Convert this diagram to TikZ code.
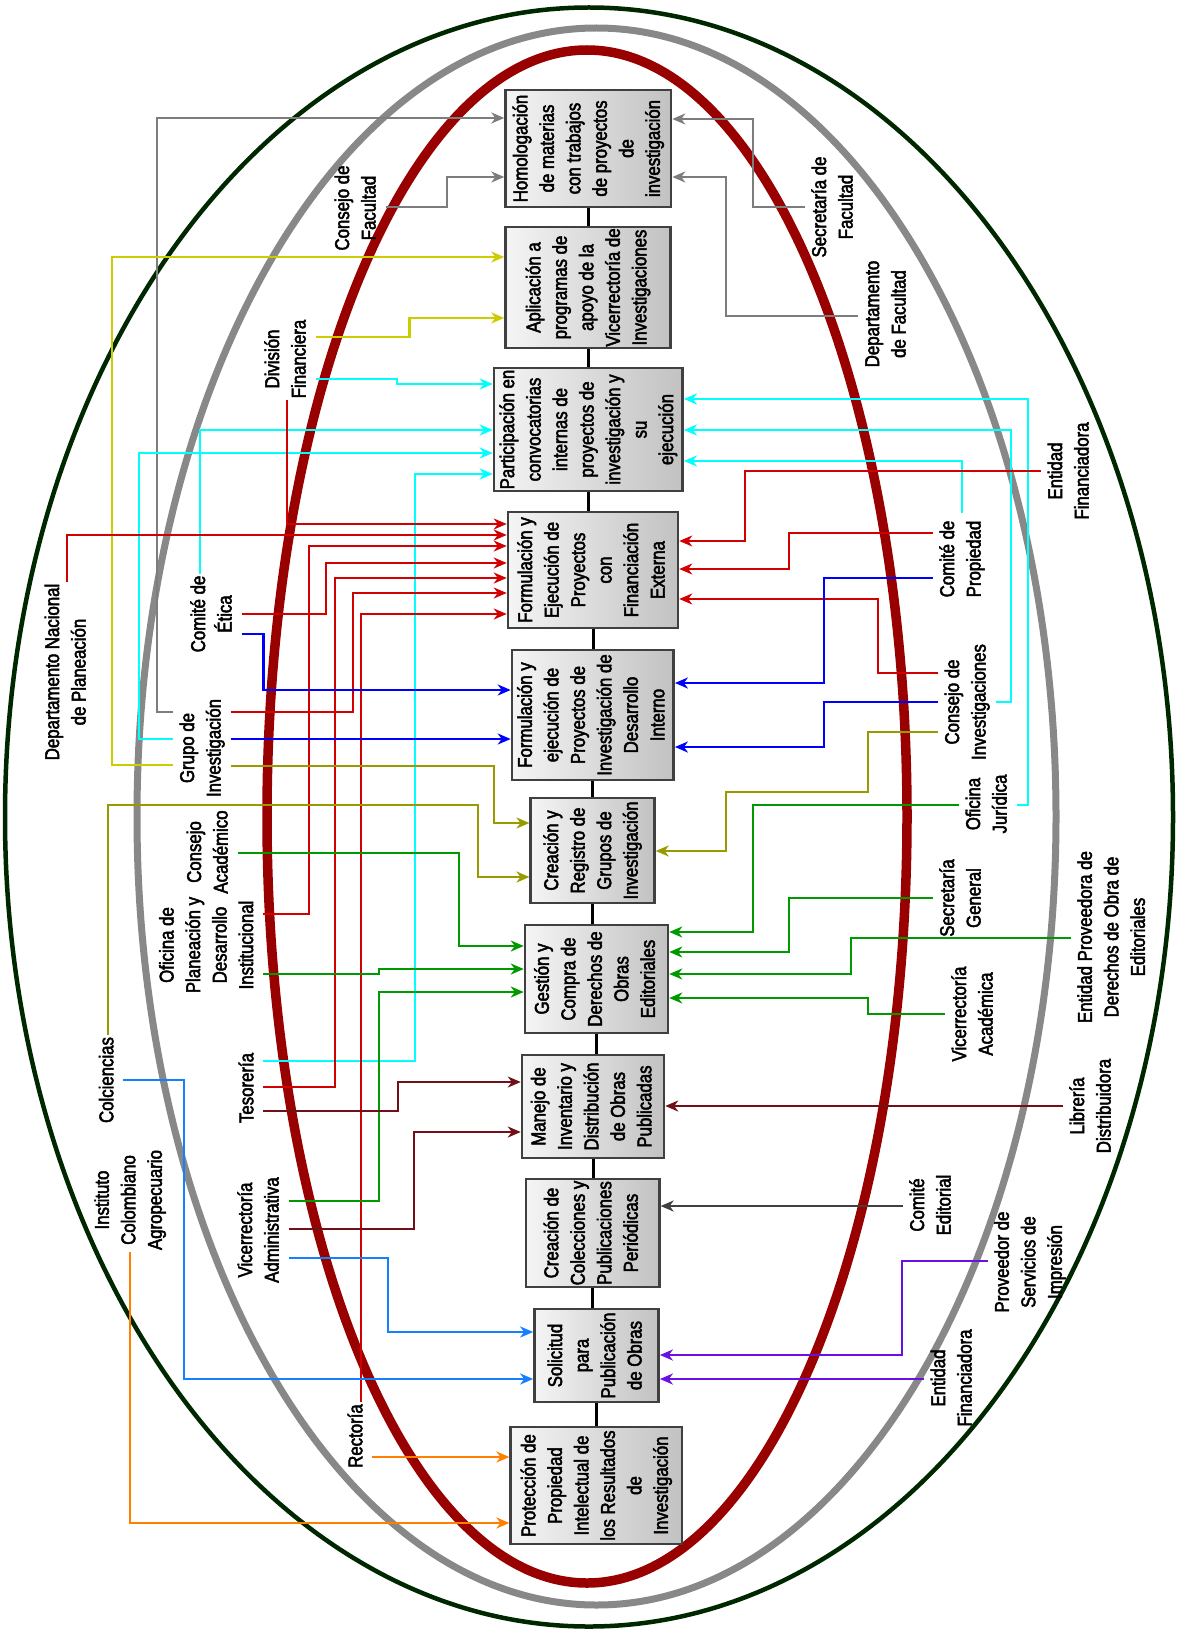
\documentclass[tikz,border=0pt]{standalone}
\usepackage{fontspec}
\setmainfont{Liberation Sans}[FakeStretch=0.84, FakeBold=2.5]
\usepackage{graphicx}
\usetikzlibrary{arrows.meta}

\definecolor{ringgreen}{RGB}{0,40,0}
\definecolor{ringgray}{RGB}{136,136,136}
\definecolor{ringred}{RGB}{153,0,0}
\definecolor{cgray}{RGB}{125,125,125}
\definecolor{cyellow}{RGB}{204,204,0}
\definecolor{ccyan}{RGB}{0,255,255}
\definecolor{cred}{RGB}{210,0,0}
\definecolor{cblue}{RGB}{0,0,255}
\definecolor{colive}{RGB}{153,153,0}
\definecolor{cgreen}{RGB}{0,153,0}
\definecolor{cmaroon}{RGB}{112,16,24}
\definecolor{cdark}{RGB}{64,64,64}
\definecolor{cazure}{RGB}{20,128,255}
\definecolor{cpurple}{RGB}{106,16,224}
\definecolor{corange}{RGB}{255,128,0}
\definecolor{boxline}{RGB}{64,64,64}

% vertical (bottom-to-top) multi-line text
\newcommand\rtxt[1]{\rotatebox{90}{\begin{tabular}{@{}c@{}}#1\end{tabular}}}

\begin{document}
\begin{tikzpicture}[x=1pt,y=-1pt,
  every node/.style={font=\fontsize{20}{26.5}\selectfont},
  proc/.style={draw=boxline, line width=2.5pt, left color=white!96!black, right color=black!24, inner sep=1pt},
  lab/.style={inner sep=2pt},
  link/.style={line width=2.2pt, -{Stealth[length=13pt,width=11pt,inset=4pt]}},
  spineline/.style={line width=3pt, black}]

\useasboundingbox (0,0) rectangle (1176,1629);

% three nested rings
\draw[ringgreen, line width=4.5pt] (589,817) ellipse [x radius=584pt, y radius=809.5pt];
\draw[ringgray, line width=7pt] (596.5,816.5) ellipse [x radius=459.5pt, y radius=788.5pt];
\draw[ringred, line width=9.5pt] (587,816.5) ellipse [x radius=320pt, y radius=766.5pt];

% process chain
\node[proc, minimum width=165.5pt, minimum height=117pt] (b1) at (588.3,148.5) {\rtxt{Homologación\\de materias\\con trabajos\\de proyectos\\de\\investigación}};
\node[proc, minimum width=165pt, minimum height=121pt] (b2) at (588,287.5) {\rtxt{Aplicación a\\programas de\\apoyo de la\\Vicerrectoría de\\Investigaciones}};
\node[proc, minimum width=188.7pt, minimum height=123pt] (b3) at (588.3,429.5) {\rtxt{Participación en\\convocatorias\\internas de\\proyectos de\\investigación y\\su\\ejecución}};
\node[proc, minimum width=170pt, minimum height=116pt] (b4) at (593,570) {\rtxt{Formulación y\\Ejecución de\\Proyectos\\con\\Financiación\\Externa}};
\node[proc, minimum width=161.7pt, minimum height=130pt] (b5) at (592.8,715) {\rtxt{Formulación y\\ejecución de\\Proyectos de\\Investigación de\\Desarrollo\\Interno}};
\node[proc, minimum width=123.8pt, minimum height=105pt] (b6) at (592.6,850.5) {\rtxt{Creación y\\Registro de\\Grupos de\\Investigación}};
\node[proc, minimum width=143pt, minimum height=108pt] (b7) at (596.5,979) {\rtxt{Gestión y\\Compra de\\Derechos de\\Obras\\Editoriales}};
\node[proc, minimum width=142pt, minimum height=103pt] (b8) at (593,1106.5) {\rtxt{Manejo de\\Inventario y\\Distribución\\de Obras\\Publicadas}};
\node[proc, minimum width=133.4pt, minimum height=108pt] (b9) at (592.7,1233) {\rtxt{Creación de\\Colecciones y\\Publicaciones\\Periódicas}};
\node[proc, minimum width=124.2pt, minimum height=93pt] (b10) at (596.5,1355.5) {\rtxt{Solicitud\\para\\Publicación\\de Obras}};
\node[proc, minimum width=171.3pt, minimum height=117pt] (b11) at (596.3,1485.5) {\rtxt{Protección de\\Propiedad\\Intelectual de\\los Resultados\\de\\Investigación}};

\foreach \a/\b in {b1/b2,b2/b3,b3/b4,b4/b5,b5/b6,b6/b7,b7/b8,b8/b9,b9/b10,b10/b11}
  \draw[spineline] (\a.south) -- (\a.south |- \b.north);

% actors, left side
\node[lab] (cf)  at (357,208)  {\rtxt{Consejo de\\Facultad}};
\node[lab] (divf) at (287,359) {\rtxt{División\\Financiera}};
\node[lab] (dnp) at (67,672)   {\rtxt{Departamento Nacional\\de Planeación}};
\node[lab] (cet) at (213,614)  {\rtxt{Comité de\\Ética}};
\node[lab] (gi)  at (202,748)  {\rtxt{Grupo de\\Investigación}};
\node[lab] (ca)  at (209,852)  {\rtxt{Consejo\\Académico}};
\node[lab] (op)  at (208,945)  {\rtxt{Oficina de\\Planeación y\\Desarrollo\\Institucional}};
\node[lab] (col) at (108,1080) {\rtxt{Colciencias}};
\node[lab] (tes) at (248,1088) {\rtxt{Tesorería}};
\node[lab] (vad) at (260,1230) {\rtxt{Vicerrectoría\\Administrativa}};
\node[lab] (ica) at (130,1200) {\rtxt{Instituto\\Colombiano\\Agropecuario}};
\node[lab] (rec) at (357,1436) {\rtxt{Rectoría}};

% actors, right side
\node[lab] (sf)  at (834,207)  {\rtxt{Secretaría de\\Facultad}};
\node[lab] (df)  at (887,314)  {\rtxt{Departamento\\de Facultad}};
\node[lab] (ef1) at (1070,471) {\rtxt{Entidad\\Financiadora}};
\node[lab] (cp)  at (962,559)  {\rtxt{Comité de\\Propiedad}};
\node[lab] (ci)  at (967,702)  {\rtxt{Consejo de\\Investigaciones}};
\node[lab] (oj)  at (988,804)  {\rtxt{Oficina\\Jurídica}};
\node[lab] (sg)  at (962,898)  {\rtxt{Secretaría\\General}};
\node[lab] (ep)  at (1113,937) {\rtxt{Entidad Proveedora de\\Derechos de Obra de\\Editoriales}};
\node[lab] (va)  at (974,1014) {\rtxt{Vicerrectoría\\Académica}};
\node[lab] (ld)  at (1092,1106) {\rtxt{Librería\\Distribuidora}};
\node[lab] (ce)  at (932,1205) {\rtxt{Comité\\Editorial}};
\node[lab] (ps)  at (1030,1262) {\rtxt{Proveedor de\\Servicios de\\Impresión}};
\node[lab] (ef2) at (953,1378) {\rtxt{Entidad\\Financiadora}};

% Homologación
\draw[link, cgray] (gi.west |- 0,712) -| (157,118) -- (b1.west |- 0,118);
\draw[link, cgray] (cf.east |- 0,207) -| (447,177) -- (b1.west |- 0,177);
\draw[link, cgray] (sf.west |- 0,207) -| (753,119) -- (b1.east |- 0,119);
\draw[link, cgray] (df.west |- 0,316) -| (726,177) -- (b1.east |- 0,177);

% Aplicación a programas
\draw[link, cyellow] (gi.west |- 0,765) -| (112,257) -- (b2.west |- 0,257);
\draw[link, cyellow] (divf.east |- 0,337) -| (409.5,318) -- (b2.west |- 0,318);

% Participación en convocatorias
\draw[link, ccyan] (divf.east |- 0,379) -| (397,384) -- (b3.west |- 0,384);
\draw[link, ccyan] ([xshift=-13pt]cet.north) |- (b3.west |- 0,430);
\draw[link, ccyan] (gi.west |- 0,739) -| (139,453) -- (b3.west |- 0,453);
\draw[link, ccyan] (tes.east |- 0,1061) -| (415,474) -- (b3.west |- 0,474);
\draw[link, ccyan] (oj.east |- 0,805) -| (1028,399) -- (b3.east |- 0,399);
\draw[link, ccyan] (ci.east |- 0,702) -| (1011,430) -- (b3.east |- 0,430);
\draw[link, ccyan] ([yshift=6pt]cp.north) |- (b3.east |- 0,461);

% Financiación externa
\draw[link, cred] (divf.south) |- (b4.west |- 0,524);
\draw[link, cred] (dnp.north) |- (b4.west |- 0,535);
\draw[link, cred] (op.east |- 0,914) -| (309,546) -- (b4.west |- 0,546);
\draw[link, cred] (cet.east |- 0,614) -| (326,563) -- (b4.west |- 0,563);
\draw[link, cred] (tes.east |- 0,1087) -| (335,578) -- (b4.west |- 0,578);
\draw[link, cred] (gi.east |- 0,712) -| (353,593) -- (b4.west |- 0,593);
\draw[link, cred] ([xshift=4pt]rec.north) |- (b4.west |- 0,614);
\draw[link, cred] (ef1.west |- 0,471) -| (745,541) -- (b4.east |- 0,541);
\draw[link, cred] (cp.west |- 0,533) -| (789,569) -- (b4.east |- 0,569);
\draw[link, cred] (ci.west |- 0,673) -| (878,599) -- (b4.east |- 0,599);

% Desarrollo interno
\draw[link, cblue] (cet.east |- 0,634) -| (263.5,690) -- (b5.west |- 0,690);
\draw[link, cblue] (gi.east |- 0,739) -- (b5.west |- 0,739);
\draw[link, cblue] (cp.west |- 0,578) -| (824,683) -- (b5.east |- 0,683);
\draw[link, cblue] (ci.west |- 0,702) -| (824,747) -- (b5.east |- 0,747);

% Grupos de investigación
\draw[link, colive] (gi.east |- 0,766) -| (494,823) -- (b6.west |- 0,823);
\draw[link, colive] (col.north) |- (478,805) |- (b6.west |- 0,877);
\draw[link, colive] (ci.west |- 0,732) -| (868,792) -| (726,851) -- (b6.east |- 0,851);

% Derechos de obras
\draw[link, cgreen] (ca.east |- 0,853) -| (459,946) -- (b7.west |- 0,946);
\draw[link, cgreen] (op.east |- 0,974) -| (379,969) -- (b7.west |- 0,969);
\draw[link, cgreen] (vad.east |- 0,1201) -| (379,992) -- (b7.west |- 0,992);
\draw[link, cgreen] (oj.west |- 0,805) -| (753,932) -- (b7.east |- 0,932);
\draw[link, cgreen] (sg.west |- 0,898) -| (789,952) -- (b7.east |- 0,952);
\draw[link, cgreen] (ep.west |- 0,938) -| (851,974) -- (b7.east |- 0,974);
\draw[link, cgreen] (va.west |- 0,1014) -| (868,998) -- (b7.east |- 0,998);

% Inventario y distribución
\draw[link, cmaroon] (tes.east |- 0,1111) -| (398,1082) -- (b8.west |- 0,1082);
\draw[link, cmaroon] (vad.east |- 0,1229) -| (414,1132) -- (b8.west |- 0,1132);
\draw[link, cmaroon] (ld.west |- 0,1106) -- (b8.east |- 0,1106);

% Colecciones
\draw[link, cdark] (ce.west |- 0,1206) -- (b9.east |- 0,1206);

% Solicitud de publicación
\draw[link, cazure] (vad.east |- 0,1258) -| (388,1332) -- (b10.west |- 0,1332);
\draw[link, cazure] (col.east |- 0,1080) -| (184,1379) -- (b10.west |- 0,1379);
\draw[link, cpurple] (ps.west |- 0,1261) -| (902,1355) -- (b10.east |- 0,1355);
\draw[link, cpurple] (ef2.west |- 0,1379) -- (b10.east |- 0,1379);

% Propiedad intelectual
\draw[link, corange] (rec.east |- 0,1457) -- (b11.west |- 0,1457);
\draw[link, corange] (ica.south) |- (b11.west |- 0,1523);

\end{tikzpicture}
\end{document}
